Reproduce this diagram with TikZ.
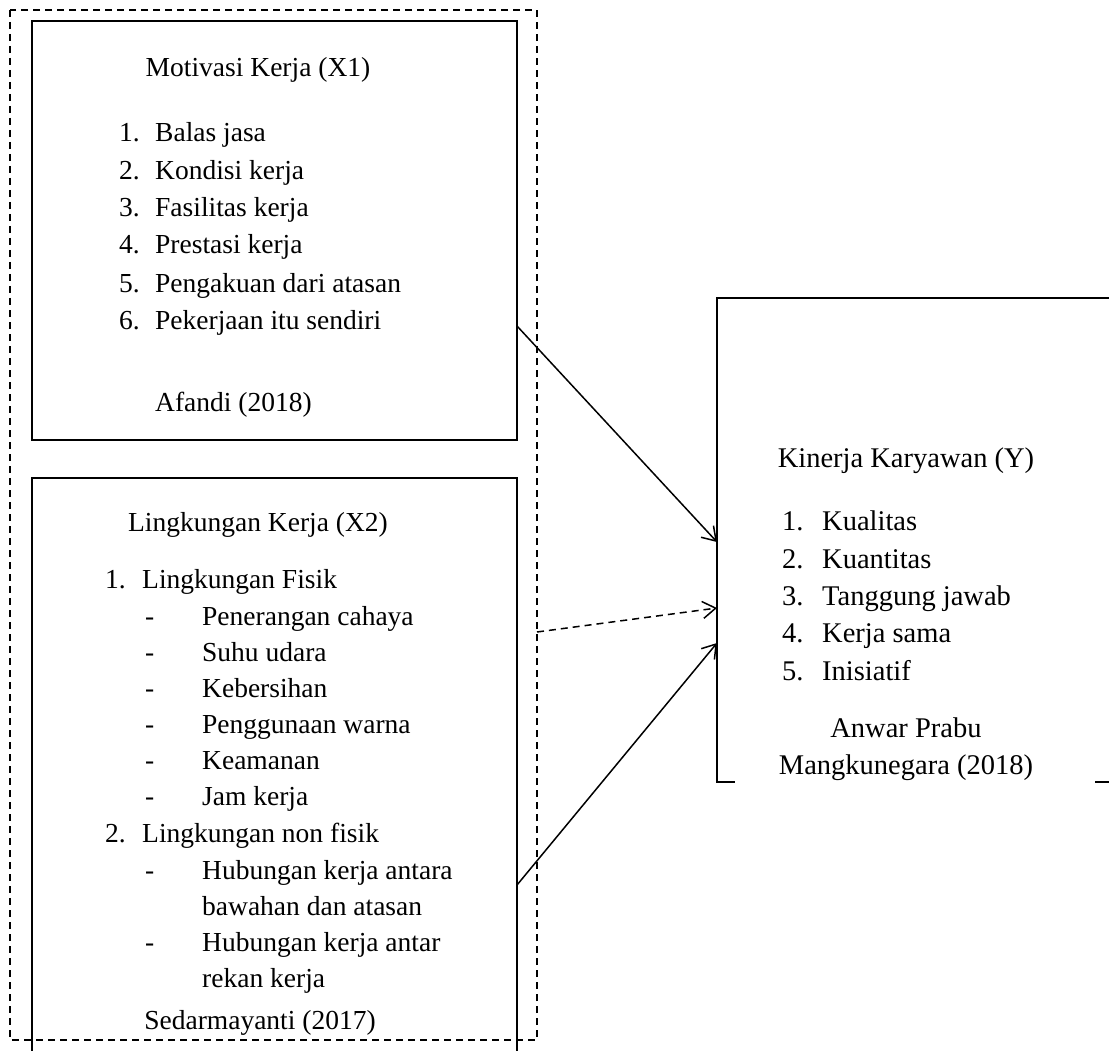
\documentclass[tikz,border=0pt]{standalone}
\usepackage{fontspec}
\setmainfont{Liberation Serif}
\usetikzlibrary{arrows.meta}
\begin{document}
\begin{tikzpicture}[x=1pt,y=-1pt,
  txt/.style={anchor=base west, inner sep=0pt, font=\fontsize{27.5}{31}\selectfont},
  ctxt/.style={anchor=base, inner sep=0pt, font=\fontsize{27.5}{31}\selectfont},
  ytxt/.style={txt, font=\fontsize{28.5}{33}\selectfont},
  yctxt/.style={ctxt, font=\fontsize{28.5}{33}\selectfont},
  boxline/.style={line width=1.7pt},
  kline/.style={line width=1.4pt},
  outerbox/.style={line width=1.5pt, dash pattern=on 7pt off 5pt},
  conn/.style={line width=1.5pt, -{Straight Barb[length=13pt,width=17pt]}},
  dconn/.style={conn, dash pattern=on 7pt off 5pt},
]
\useasboundingbox (0,0) rectangle (1109,1051);
\fill[white] (0,0) rectangle (1109,1051);

% outer dashed frame
\draw[outerbox] (10,10) rectangle (537,1040);

% X1 box
\draw[boxline] (32,21) rectangle (517,440);
% X2 box (open at the bottom)
\draw[boxline] (32,1051) -- (32,478) -- (517,478) -- (517,1051);
% Y box (cut at the right, broken at the bottom)
\draw[kline] (1109,298) -- (717,298) -- (717,782) -- (735,782);
\draw[kline] (1095,782) -- (1109,782);

% connector end points
\coordinate (x1out) at (517,326);
\coordinate (x2dash) at (537,632);
\coordinate (x2out) at (517,885);
\coordinate (yin1) at (717,542);
\coordinate (yin2) at (717,608);
\coordinate (yin3) at (717,643);

% X1 texts
\node[ctxt] (x1title) at (258,77) {Motivasi Kerja (X1)};
\node[txt] (a1n) at (119,142) {1.}; \node[txt] (a1) at (155,142) {Balas jasa};
\node[txt] (a2n) at (119,180) {2.}; \node[txt] (a2) at (155,180) {Kondisi kerja};
\node[txt] (a3n) at (119,217) {3.}; \node[txt] (a3) at (155,217) {Fasilitas kerja};
\node[txt] (a4n) at (119,254) {4.}; \node[txt] (a4) at (155,254) {Prestasi kerja};
\node[txt] (a5n) at (119,292) {5.}; \node[txt] (a5) at (155,292) {Pengakuan dari atasan};
\node[txt] (a6n) at (119,329) {6.}; \node[txt] (a6) at (155,329) {Pekerjaan itu sendiri};
\node[txt] (x1src) at (155,411) {Afandi (2018)};

% X2 texts
\node[ctxt] (x2title) at (258,531) {Lingkungan Kerja (X2)};
\node[txt] (b1n) at (105,588) {1.}; \node[txt] (b1) at (142,588) {Lingkungan Fisik};
\node[txt] (c1d) at (145,625) {-}; \node[txt] (c1) at (202,625) {Penerangan cahaya};
\node[txt] (c2d) at (145,661) {-}; \node[txt] (c2) at (202,661) {Suhu udara};
\node[txt] (c3d) at (145,697) {-}; \node[txt] (c3) at (202,697) {Kebersihan};
\node[txt] (c4d) at (145,733) {-}; \node[txt] (c4) at (202,733) {Penggunaan warna};
\node[txt] (c5d) at (145,769) {-}; \node[txt] (c5) at (202,769) {Keamanan};
\node[txt] (c6d) at (145,805) {-}; \node[txt] (c6) at (202,805) {Jam kerja};
\node[txt] (b2n) at (105,842) {2.}; \node[txt] (b2) at (142,842) {Lingkungan non fisik};
\node[txt] (d1d) at (145,879) {-}; \node[txt] (d1) at (202,879) {Hubungan kerja antara};
\node[txt] (d1b) at (202,915) {bawahan dan atasan};
\node[txt] (d2d) at (145,951) {-}; \node[txt] (d2) at (202,951) {Hubungan kerja antar};
\node[txt] (d2b) at (202,987) {rekan kerja};
\node[ctxt] (x2src) at (260,1029) {Sedarmayanti (2017)};

% Y texts
\node[yctxt] (ytitle) at (906,467) {Kinerja Karyawan (Y)};
\node[ytxt] (e1n) at (782,530) {1.}; \node[ytxt] (e1) at (822,530) {Kualitas};
\node[ytxt] (e2n) at (782,568) {2.}; \node[ytxt] (e2) at (822,568) {Kuantitas};
\node[ytxt] (e3n) at (782,605) {3.}; \node[ytxt] (e3) at (822,605) {Tanggung jawab};
\node[ytxt] (e4n) at (782,642) {4.}; \node[ytxt] (e4) at (822,642) {Kerja sama};
\node[ytxt] (e5n) at (782,680) {5.}; \node[ytxt] (e5) at (822,680) {Inisiatif};
\node[yctxt] (ysrc1) at (906,737) {Anwar Prabu};
\node[yctxt] (ysrc2) at (906,774) {Mangkunegara (2018)};

% connectors
\draw[conn] (x1out) -- (yin1);
\draw[dconn] (x2dash) -- (yin2);
\draw[conn] (x2out) -- (yin3);
\end{tikzpicture}
\end{document}
